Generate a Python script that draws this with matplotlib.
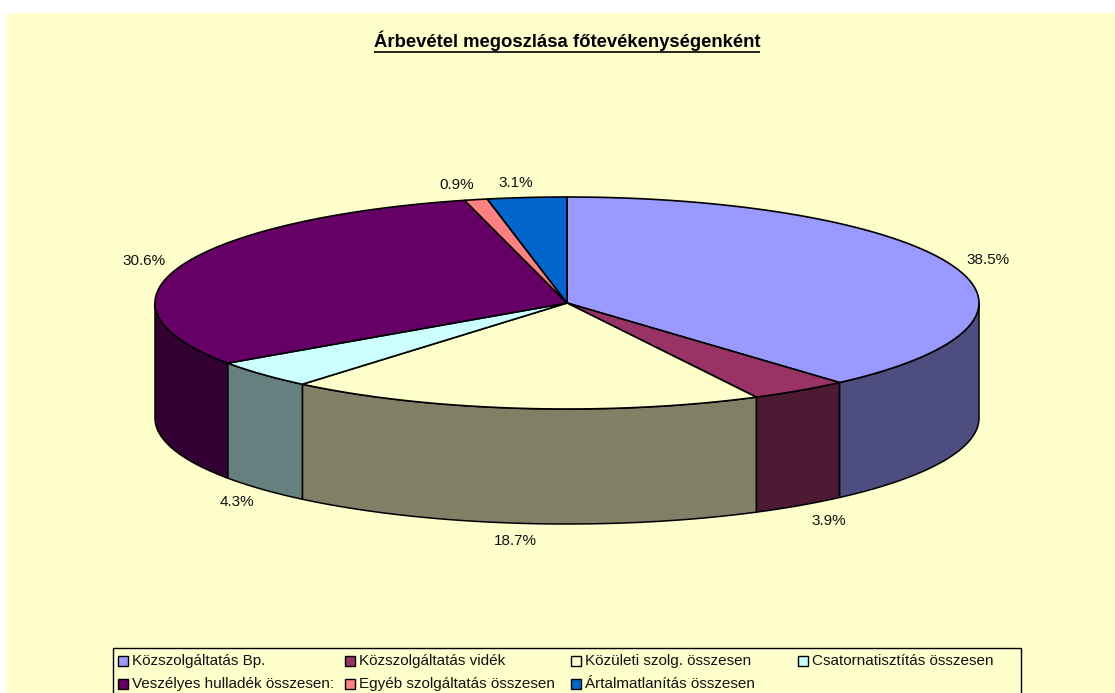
import numpy as np
import matplotlib
matplotlib.use('Agg')
import matplotlib.pyplot as plt
from matplotlib.patches import Polygon, Rectangle

plt.rcParams['font.family'] = ['Liberation Sans', 'DejaVu Sans']

# adatok
categories = ['Közszolgáltatás Bp.', 'Közszolgáltatás vidék', 'Közületi szolg. összesen',
              'Csatornatisztítás összesen', 'Veszélyes hulladék összesen:',
              'Egyéb szolgáltatás összesen', 'Ártalmatlanítás összesen']
values = [38.5, 3.9, 18.7, 4.3, 30.6, 0.9, 3.1]
title = 'Árbevétel megoszlása főtevékenységenként'

top_colors = ['#9999FF', '#993366', '#FFFFCC', '#CCFFFF', '#660066', '#FF8080', '#0066CC']
side_colors = ['#4D4D80', '#4D1A33', '#808066', '#668080', '#330033', '#804040', '#003366']
bg = '#FFFFCC'

# geometria (pixel)
W, H = 1115, 693
cx, cy, rx, ry, depth = 567, 303, 412, 106, 115
label_nudge = [0, 8, -2, 3, -2, -11, -7]


def ell(t):
    # t fokban, 12 oratol az oramutato jarasaval
    r = np.radians(t)
    return cx + rx * np.sin(r), cy - ry * np.cos(r)


fig = plt.figure(figsize=(W / 100, H / 100), dpi=100, facecolor='white')
ax = fig.add_axes([0, 0, 1, 1])
ax.set_xlim(0, W)
ax.set_ylim(H, 0)
ax.axis('off')

ax.add_patch(Rectangle((7, 13), W - 7, H - 13, facecolor=bg, edgecolor='none', zorder=0))

shares = np.array(values) / np.sum(values) * 360
starts = np.concatenate([[0], np.cumsum(shares)[:-1]])
ends = starts + shares

# oldalfalak (csak az elulso felkor latszik)
for s, e, c in zip(starts, ends, side_colors):
    a, b = max(s, 90), min(e, 270)
    if a >= b:
        continue
    t = np.linspace(a, b, 200)
    x, y = ell(t)
    pts = np.vstack([np.column_stack([x, y]), np.column_stack([x[::-1], y[::-1] + depth])])
    ax.add_patch(Polygon(pts, closed=True, facecolor=c, edgecolor='black', lw=1.1, zorder=2))

# felso lapok
for s, e, c in zip(starts, ends, top_colors):
    t = np.linspace(s, e, 300)
    x, y = ell(t)
    pts = np.vstack([[cx, cy], np.column_stack([x, y])])
    ax.add_patch(Polygon(pts, closed=True, facecolor=c, edgecolor='black', lw=1.2, zorder=3))

# szazalekos feliratok
for s, e, v, n in zip(starts, ends, values, label_nudge):
    m = np.radians((s + e) / 2)
    lx = cx + (rx + 38) * np.sin(m) + n
    ly = cy - (ry + 15) * np.cos(m)
    if np.cos(m) < 0:
        ly += depth + 3
    ax.text(lx, ly, f'{v:.1f}%', ha='center', va='center', fontsize=11, color='#111111', zorder=4)

# cim, alahuzassal
tt = ax.text(567, 41, title, ha='center', va='center', fontsize=13.3, fontweight='bold', color='black')
fig.canvas.draw()
bb = tt.get_window_extent().transformed(ax.transData.inverted())
ax.plot([bb.x0, bb.x1], [52, 52], color='black', lw=1.2, solid_capstyle='butt')

# jelmagyarazat
ax.add_patch(Rectangle((113, 648), 907.5, 60, facecolor=bg, edgecolor='black', lw=1, zorder=5))
for i, (name, c) in enumerate(zip(categories, top_colors)):
    col, row = i % 4, i // 4
    x0 = 118 + col * 226.6
    y0 = 661 + row * 23
    ax.add_patch(Rectangle((x0, y0 - 5), 10, 10, facecolor=c, edgecolor='black', lw=1, zorder=6))
    ax.text(x0 + 14, y0, name, ha='left', va='center', fontsize=11, color='#111111', zorder=6)

plt.savefig('out.png', dpi=100)
